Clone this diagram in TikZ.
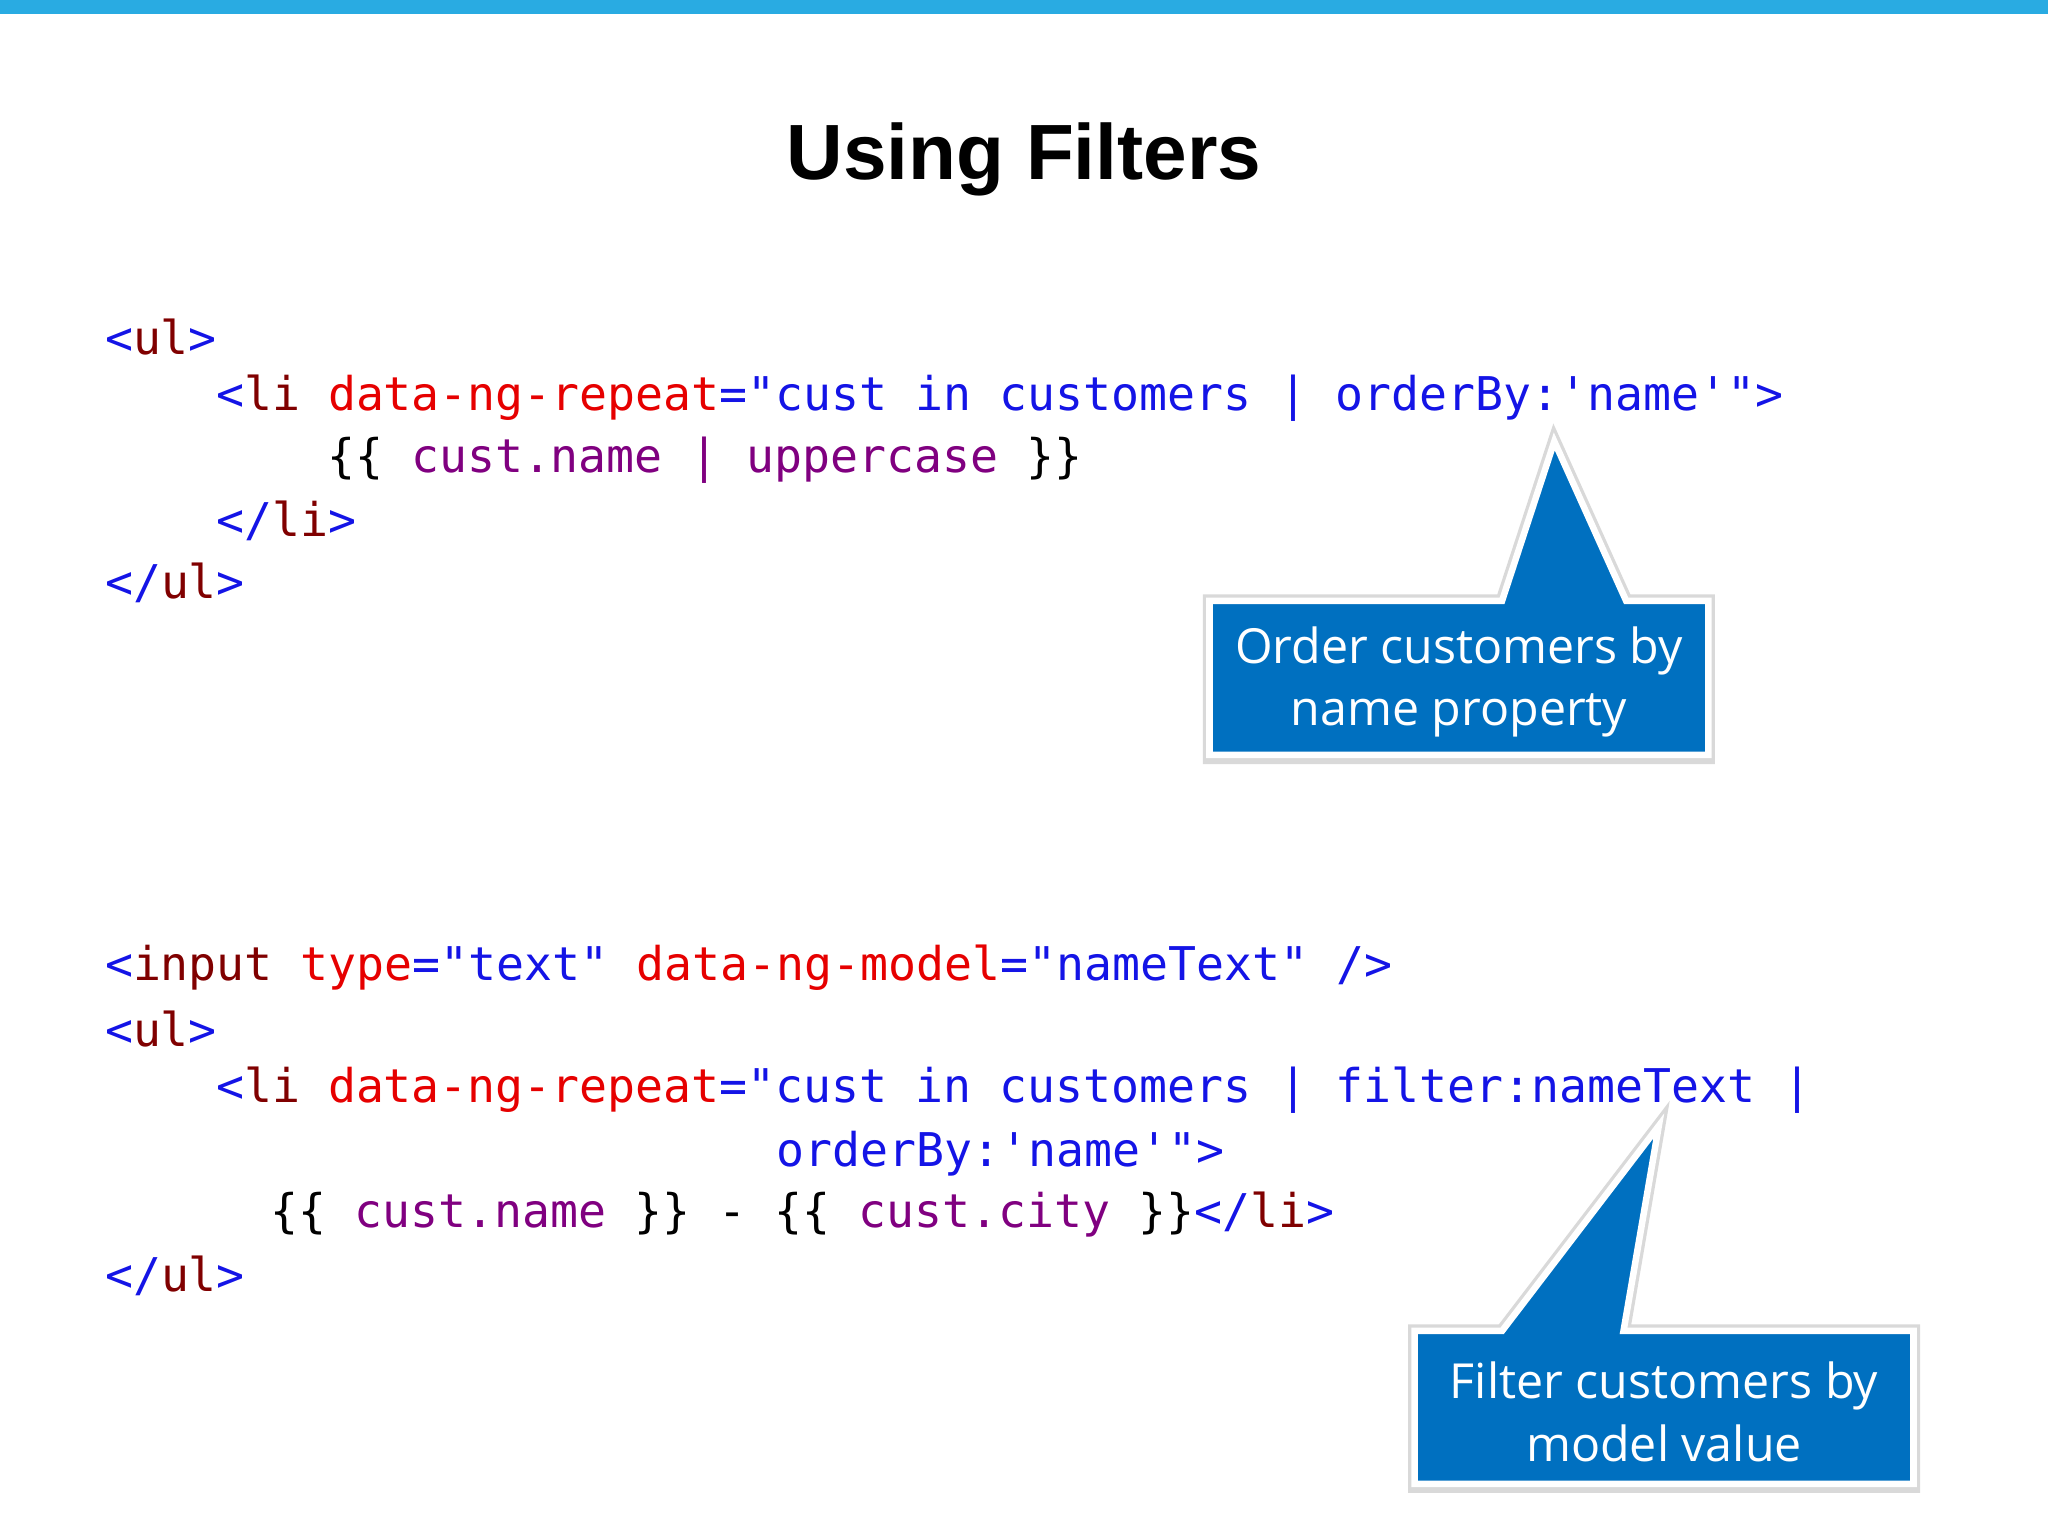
\documentclass[tikz,border=0pt]{standalone}
\usepackage{fontspec}
\setmainfont{Liberation Sans}
\setmonofont{DejaVu Sans Mono}
\newfontfamily\callfont{Open Sans}
\definecolor{barblue}{RGB}{41,171,226}
\definecolor{tagb}{RGB}{20,20,230}
\definecolor{tagr}{RGB}{128,0,0}
\definecolor{attr}{RGB}{230,0,0}
\definecolor{purp}{RGB}{128,0,128}
\definecolor{callblue}{RGB}{0,112,192}
\newcommand{\cB}[1]{\textcolor{tagb}{#1}}
\newcommand{\cR}[1]{\textcolor{tagr}{#1}}
\newcommand{\cA}[1]{\textcolor{attr}{#1}}
\newcommand{\cP}[1]{\textcolor{purp}{#1}}
\begin{document}
\begin{tikzpicture}[x=0.5pt,y=-0.5pt,
  code/.style={anchor=west,inner sep=0pt,font=\fontsize{17.8}{20}\selectfont\ttfamily},
  calltext/.style={text=white,align=center,font=\callfont\fontsize{18.5}{24}\selectfont,inner sep=0pt},
  callshape/.style={fill=callblue,draw=white,line width=2.5pt,line join=miter},
  callshadow/.style={draw=black!15,line width=5pt,line join=miter}]
\useasboundingbox (0,0) rectangle (1568,1176);
\fill[barblue] (0,0) rectangle (1568,11);
\node[font=\bfseries\fontsize{30}{36}\selectfont] (title) at (784,122) {Using Filters};
% block 1
\node[code] (a1) at (80,258) {\cB{<}\cR{ul}\cB{>}};
\node[code] (a2) at (165,305) {\cB{<}\cR{li}~\cA{data-ng-repeat}\cB{="cust in customers | orderBy:\textquotesingle name\textquotesingle">}};
\node[code] (a3) at (250,352) {\{\{ \cP{cust.name | uppercase} \}\}};
\node[code] (a4) at (165,399) {\cB{</}\cR{li}\cB{>}};
\node[code] (a5) at (80,446) {\cB{</}\cR{ul}\cB{>}};
% block 2
\node[code] (b1) at (80,741) {\cB{<}\cR{input}~\cA{type}\cB{="text"}~\cA{data-ng-model}\cB{="nameText" />}};
\node[code] (b2) at (80,788) {\cB{<}\cR{ul}\cB{>}};
\node[code] (b3) at (165,835) {\cB{<}\cR{li}~\cA{data-ng-repeat}\cB{="cust in customers | filter:nameText |}};
\node[code] (b4) at (594,883) {\cB{orderBy:\textquotesingle name\textquotesingle">}};
\node[code] (b5) at (207,930) {\{\{ \cP{cust.name} \}\} - \{\{ \cP{cust.city} \}\}\cB{</}\cR{li}\cB{>}};
\node[code] (b6) at (80,977) {\cB{</}\cR{ul}\cB{>}};
% callout 1
\draw[callshadow] (926,460) -- (1150,460) -- (1190,338) -- (1245,460) -- (1308,460) -- (1308,580) -- (926,580) -- cycle;
\draw[callshape] (926,460) -- (1150,460) -- (1190,338) -- (1245,460) -- (1308,460) -- (1308,578) -- (926,578) -- cycle;
\node[calltext] (c1) at (1117,522) {Order customers by\\name property};
% callout 2
\draw[callshadow] (1083,1019) -- (1150,1019) -- (1270,862) -- (1243,1019) -- (1465,1019) -- (1465,1138) -- (1083,1138) -- cycle;
\draw[callshape] (1083,1019) -- (1150,1019) -- (1270,862) -- (1243,1019) -- (1465,1019) -- (1465,1136) -- (1083,1136) -- cycle;
\node[calltext] (c2) at (1274,1081) {Filter customers by\\model value};
\end{tikzpicture}
\end{document}
